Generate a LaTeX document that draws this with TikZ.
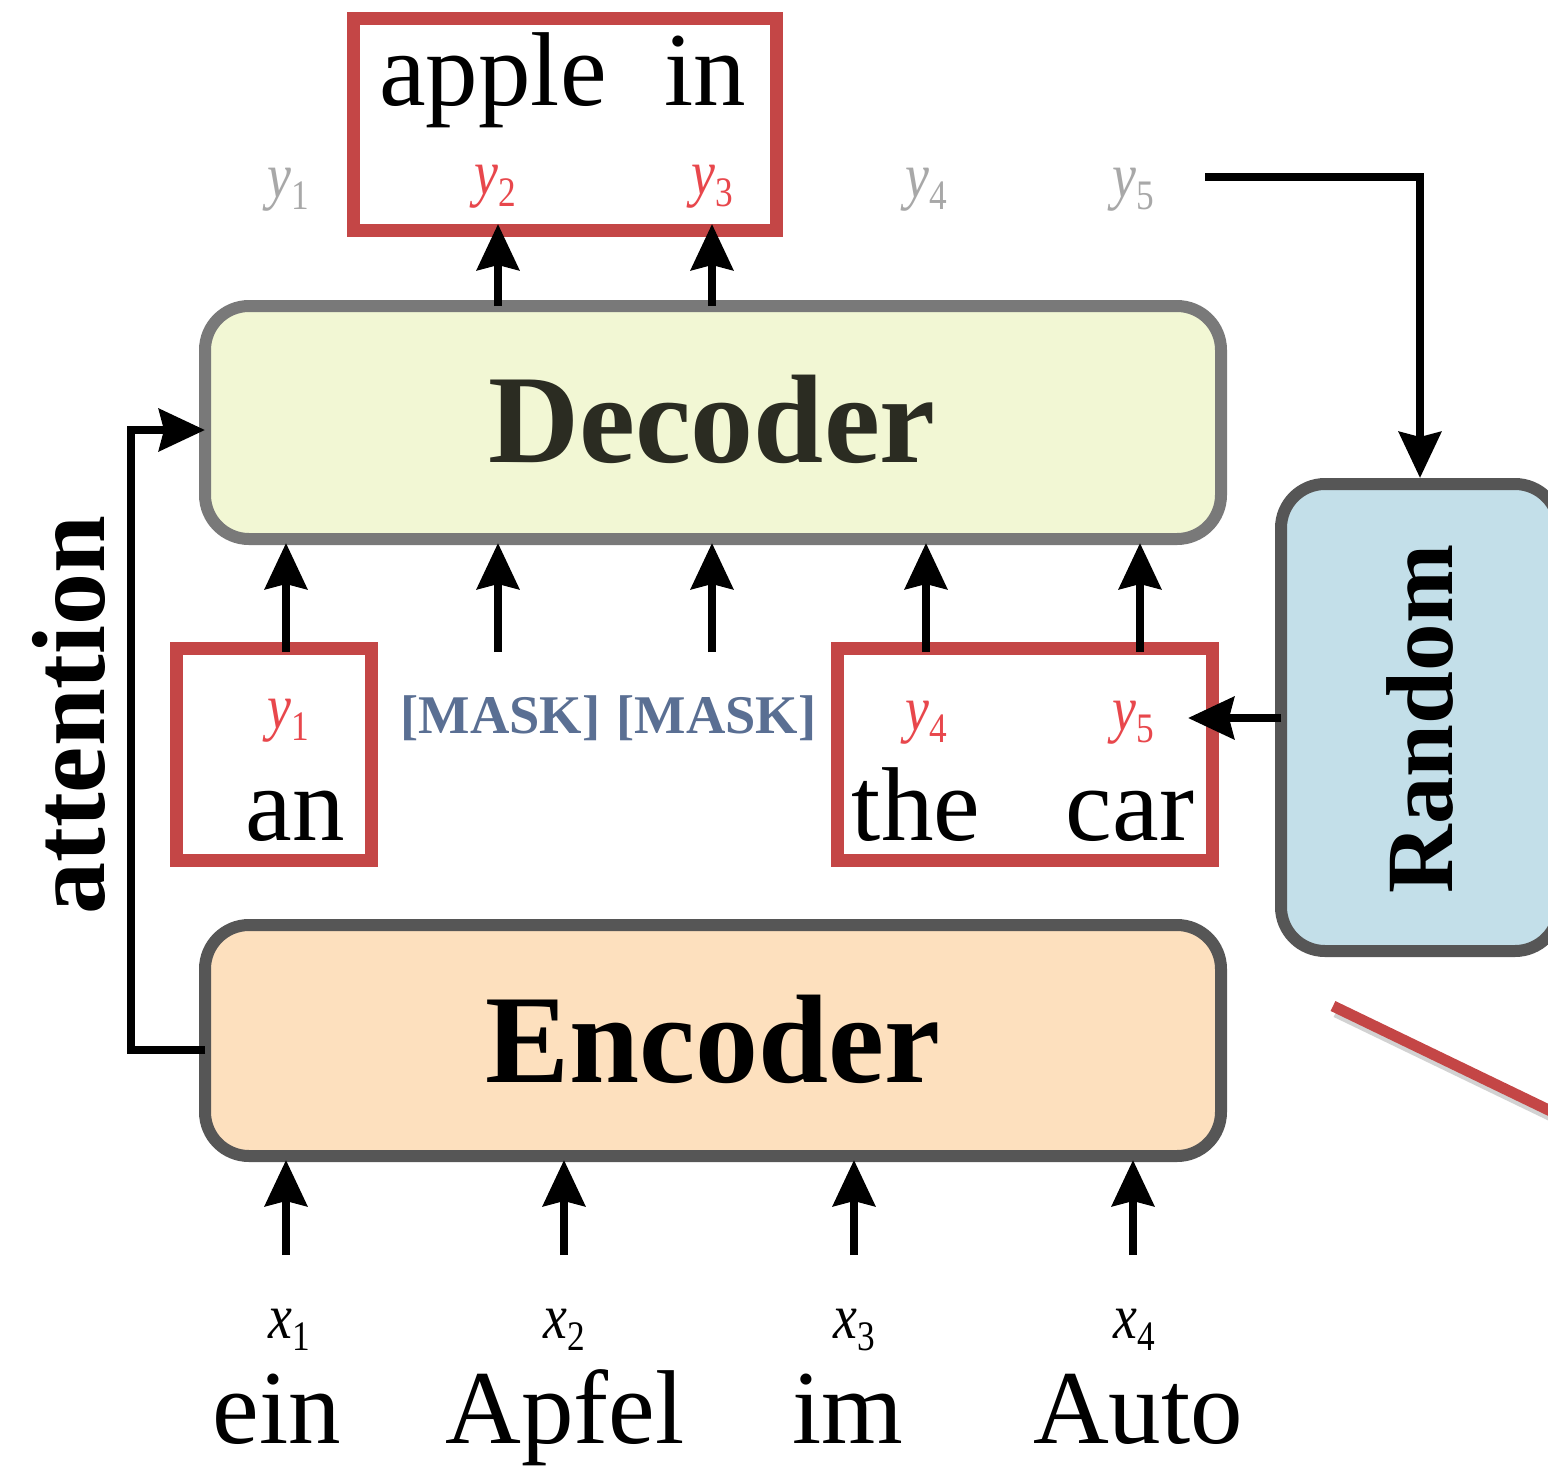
\documentclass[tikz,border=0pt]{standalone}
\usepackage{fontspec}
\setmainfont{Liberation Serif}
\usetikzlibrary{arrows.meta}

\definecolor{boxred}{HTML}{C44646}
\definecolor{labred}{HTML}{E8474C}
\definecolor{labgray}{HTML}{A8A8A8}
\definecolor{maskblue}{HTML}{5A6F93}
\definecolor{decfill}{HTML}{F2F7D4}
\definecolor{decline}{HTML}{797979}
\definecolor{encfill}{HTML}{FDE0BE}
\definecolor{darkline}{HTML}{565656}
\definecolor{randfill}{HTML}{C3DFE9}
\definecolor{dectext}{HTML}{2B2C22}

% narrow italic symbol with an upright lowered index
\newcommand\tok[2]{\scalebox{0.84}[1]{\textit{#1}\raisebox{-12pt}{\fontsize{42}{42}\selectfont #2}}}

\tikzset{
  block/.style={rounded corners=44pt, line width=12pt, inner sep=0pt, outer sep=0pt},
  redbox/.style={draw=boxred, fill=white, line width=13pt, inner sep=0pt, outer sep=0pt},
  word/.style={font=\fontsize{105}{105}\selectfont, anchor=base, inner sep=0pt},
  sym/.style={font=\fontsize{64}{64}\selectfont, anchor=base, inner sep=0pt},
  masklab/.style={font=\fontsize{54.5}{54.5}\selectfont\bfseries, text=maskblue, anchor=base, inner sep=0pt},
  bigbold/.style={font=\fontsize{126}{126}\selectfont\bfseries, anchor=base, inner sep=0pt},
  arr/.style={line width=8pt, -{Stealth[length=46pt,width=42pt,inset=5pt]}},
}

\begin{document}
\begin{tikzpicture}[x=1pt, y=-1pt]
\useasboundingbox (0,0) rectangle (1548,1468);
\clip (0,0) rectangle (1548,1468);

% main blocks
\node[block, draw=decline, fill=decfill, minimum width=1016pt, minimum height=233pt] (dec) at (713,422.5) {};
\node[block, draw=darkline, fill=encfill, minimum width=1016pt, minimum height=231pt] (enc) at (713,1040.5) {};
\node[block, draw=darkline, fill=randfill, minimum width=278pt, minimum height=467pt] (rnd) at (1420,717.5) {};

\node[bigbold, text=dectext] (dectxt) at (712,462) {Decoder};
\node[bigbold] (enctxt) at (713,1082) {Encoder};
\node[bigbold, font=\fontsize{95}{95}\selectfont\bfseries, rotate=90] (rndtxt) at (1452,719) {Random};
\node[bigbold, font=\fontsize{104}{104}\selectfont\bfseries, rotate=90] (att) at (104,715) {attention};

% red boxes
\node[redbox, minimum width=423pt, minimum height=212pt] (outbox) at (564.5,124) {};
\node[redbox, minimum width=195pt, minimum height=212pt] (anbox) at (273.5,754) {};
\node[redbox, minimum width=375pt, minimum height=212pt] (carbox) at (1024.5,754) {};

% predicted words
\node[word] (wapple) at (493,105) {apple};
\node[word] (win) at (705,105) {in};
\node[sym, text=labgray] (oy1) at (288,197) {\tok{y}{1}};
\node[sym, text=labred] (oy2) at (495,194) {\tok{y}{2}};
\node[sym, text=labred] (oy3) at (712,194) {\tok{y}{3}};
\node[sym, text=labgray] (oy4) at (926,197) {\tok{y}{4}};
\node[sym, text=labgray] (oy5) at (1133,197) {\tok{y}{5}};

% decoder inputs
\node[sym, text=labred] (iy1) at (288,728) {\tok{y}{1}};
\node[word] (wan) at (295,840) {an};
\node[masklab] (m1) at (500.5,733) {[MASK]};
\node[masklab] (m2) at (716.5,733) {[MASK]};
\node[sym, text=labred] (iy4) at (926,730) {\tok{y}{4}};
\node[sym, text=labred] (iy5) at (1133,730) {\tok{y}{5}};
\node[word] (wthe) at (916,840) {the};
\node[word] (wcar) at (1130,840) {car};

% source sentence
\node[sym] (x1) at (289,1338) {\tok{x}{1}};
\node[sym] (x2) at (564,1338) {\tok{x}{2}};
\node[sym] (x3) at (854,1338) {\tok{x}{3}};
\node[sym] (x4) at (1134,1338) {\tok{x}{4}};
\node[word] (wein) at (277,1443) {ein};
\node[word] (wapfel) at (565,1443) {Apfel};
\node[word] (wim) at (848,1443) {im};
\node[word] (wauto) at (1138,1443) {Auto};

% decoder outputs
\draw[arr] (dec.north -| 498,0) -- ([yshift=6pt]outbox.south -| 498,0);
\draw[arr] (dec.north -| 712,0) -- ([yshift=6pt]outbox.south -| 712,0);

% decoder inputs
\coordinate (in1) at (286,652);
\coordinate (in2) at (498,652);
\coordinate (in3) at (712,652);
\coordinate (in4) at (926,652);
\coordinate (in5) at (1140,652);
\foreach \c in {in1,in2,in3,in4,in5}
  \draw[arr] (\c) -- ([yshift=-4pt]dec.south -| \c);

% encoder inputs
\coordinate (s1) at (286,1255);
\coordinate (s2) at (564,1255);
\coordinate (s3) at (854,1255);
\coordinate (s4) at (1133,1255);
\foreach \c in {s1,s2,s3,s4}
  \draw[arr] (\c) -- ([yshift=-4pt]enc.south -| \c);

% attention link
\draw[arr] (enc.west |- 0,1050) -- (131,1050) -- (131,430) -- (dec.west |- 0,430);

% sampling loop
\coordinate (loopstart) at (1205,177);
\draw[arr] (loopstart) -- (1420,177) -- ([yshift=6pt]rnd.north);
\coordinate (pick) at (1188,718);
\draw[arr] (rnd.west |- pick) -- (pick);

% red stroke at the lower right
\draw[line width=11pt, gray!35] (1336,1012) -- (1620,1149);
\draw[line width=11pt, boxred] (1333,1006) -- (1617,1143);
\end{tikzpicture}
\end{document}
